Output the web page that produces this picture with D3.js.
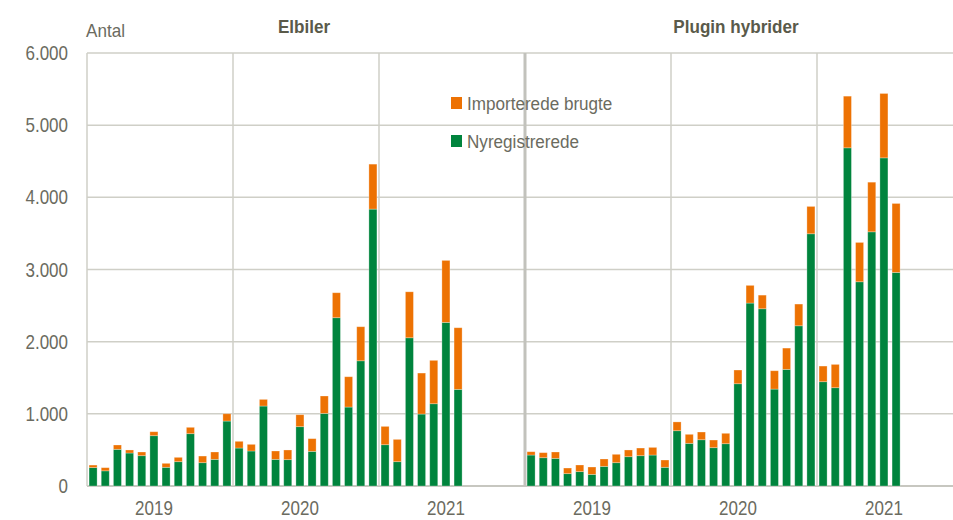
<!DOCTYPE html>
<html>
<head>
<meta charset="utf-8">
<script src="https://cdn.jsdelivr.net/npm/d3@7"></script>
<style>
  body { margin: 0; background: #fff; }
  text { font-family: "Liberation Sans", Arial, sans-serif; }
</style>
</head>
<body>
<script>
const width = 953;
const height = 520;

const years = ["2019", "2020", "2021"];
const panels = ["Elbiler", "Plugin hybrider"];
const seriesNames = ["Nyregistrerede", "Importerede brugte"];
const yTicks = [0, 1000, 2000, 3000, 4000, 5000, 6000];

// Elbiler, jan 2019 - jul 2021
const elNy = [255, 210, 508, 457, 420, 697, 259, 337, 725, 323, 369, 900,
              526, 485, 1108, 369, 365, 822, 480, 1006, 2332, 1094, 1735, 3837,
              572, 337, 2054, 997, 1140, 2267, 1339];
const elImp = [35, 44, 60, 42, 51, 55, 55, 60, 88, 92, 102, 101,
               93, 92, 92, 116, 134, 166, 176, 241, 346, 420, 472, 623,
               254, 309, 637, 568, 601, 859, 854];

// Plugin hybrider
const phNy = [429, 392, 383, 171, 199, 161, 272, 323, 406, 420, 429, 259,
              766, 591, 641, 531, 586, 1417, 2535, 2456, 1343, 1616, 2220, 3495,
              1445, 1362, 4686, 2830, 3522, 4547, 2959];
const phImp = [46, 70, 88, 78, 92, 102, 102, 116, 93, 106, 106, 101,
               122, 125, 107, 106, 144, 190, 245, 189, 254, 295, 301, 379,
               217, 323, 716, 545, 688, 892, 956];

const COLOR_NY = "#00843D";
const COLOR_IMP = "#ED7203";
const COLOR_TEXT = "#6b6b60";
const COLOR_TITLE = "#5a5a4a";
const COLOR_GRID = "#cfcfc7";

// 36 month slots per panel
const slots = [];
years.forEach(y => { for (let m = 1; m <= 12; m++) slots.push(y + "-" + m); });

const svg = d3.select("body").append("svg")
    .attr("width", width)
    .attr("height", height);

const y = d3.scaleLinear().domain([0, 6000]).range([486, 53]);
const xL = d3.scaleBand().domain(slots).range([87, 525]).paddingInner(0.34).paddingOuter(0.17);
const xR = d3.scaleBand().domain(slots).range([525, 963]).paddingInner(0.34).paddingOuter(0.17);

const fmt = d3.formatLocale({decimal: ",", thousands: ".", grouping: [3], currency: ["", " kr"]}).format(",d");

// squeezed text helper
function label(g, x, yy, txt, size, sx, anchor, weight, color) {
    return g.append("text")
        .attr("transform", `translate(${x},${yy}) scale(${sx},1)`)
        .attr("text-anchor", anchor)
        .attr("font-size", size)
        .attr("font-weight", weight)
        .attr("fill", color)
        .text(txt);
}

// horizontal grid
svg.append("g").selectAll("line")
    .data(yTicks)
    .join("line")
    .attr("x1", 87).attr("x2", width)
    .attr("y1", d => y(d)).attr("y2", d => y(d))
    .attr("stroke", d => d === 0 ? "#b5b5ab" : COLOR_GRID)
    .attr("stroke-width", 1.5);

// year separators
const sepX = [xL("2020-1") - xL.step() * 0.17, xL("2021-1") - xL.step() * 0.17,
              xR("2020-1") - xR.step() * 0.17, xR("2021-1") - xR.step() * 0.17];
svg.append("g").selectAll("line")
    .data(sepX)
    .join("line")
    .attr("x1", d => d).attr("x2", d => d)
    .attr("y1", y(6000)).attr("y2", y(0))
    .attr("stroke", COLOR_GRID)
    .attr("stroke-width", 1.5);

// left axis line and panel divider
svg.append("line")
    .attr("x1", 87).attr("x2", 87).attr("y1", y(6000)).attr("y2", y(0))
    .attr("stroke", COLOR_GRID).attr("stroke-width", 1.5);
svg.append("line")
    .attr("x1", 525).attr("x2", 525).attr("y1", y(6000)).attr("y2", y(0))
    .attr("stroke", "#c2c2bc").attr("stroke-width", 3);

// y tick labels
const yAxis = svg.append("g");
yTicks.forEach(t => label(yAxis, 68, y(t) + 7, fmt(t), 20, 0.85, "end", "normal", COLOR_TEXT));

label(svg, 86, 37, "Antal", 18, 0.95, "start", "normal", COLOR_TEXT);

// bars
function drawPanel(x, ny, imp) {
    const rows = ny.map((v, i) => ({slot: slots[i], ny: v, imp: imp[i]}));
    const stack = d3.stack().keys(["ny", "imp"])(rows);
    const g = svg.append("g");
    g.selectAll("g")
        .data(stack)
        .join("g")
        .attr("fill", d => d.key === "ny" ? COLOR_NY : COLOR_IMP)
        .selectAll("rect")
        .data(d => d)
        .join("rect")
        .attr("x", d => x(d.data.slot))
        .attr("width", x.bandwidth())
        .attr("y", d => y(d[1]))
        .attr("height", d => y(d[0]) - y(d[1]))
        .attr("stroke", "rgba(255,255,255,0.35)")
        .attr("stroke-width", 0.8);

    // year labels
    years.forEach(yr => {
        const cx = (x(yr + "-1") + x(yr + "-12") + x.bandwidth()) / 2 - 6;
        label(svg, cx, 515, yr, 20, 0.85, "middle", "normal", COLOR_TEXT);
    });
}
drawPanel(xL, elNy, elImp);
drawPanel(xR, phNy, phImp);

// titles
label(svg, 304, 33, panels[0], 18, 0.95, "middle", "bold", COLOR_TITLE);
label(svg, 736, 33, panels[1], 18, 0.95, "middle", "bold", COLOR_TITLE);

// legend
const legend = [
    {name: seriesNames[1], color: COLOR_IMP, yy: 103},
    {name: seriesNames[0], color: COLOR_NY, yy: 141}
];
legend.forEach(l => {
    svg.append("rect")
        .attr("x", 451).attr("y", l.yy - 6)
        .attr("width", 11).attr("height", 12)
        .attr("fill", l.color);
    label(svg, 467, l.yy + 7, l.name, 19, 0.9, "start", "normal", COLOR_TEXT);
});
</script>
</body>
</html>
